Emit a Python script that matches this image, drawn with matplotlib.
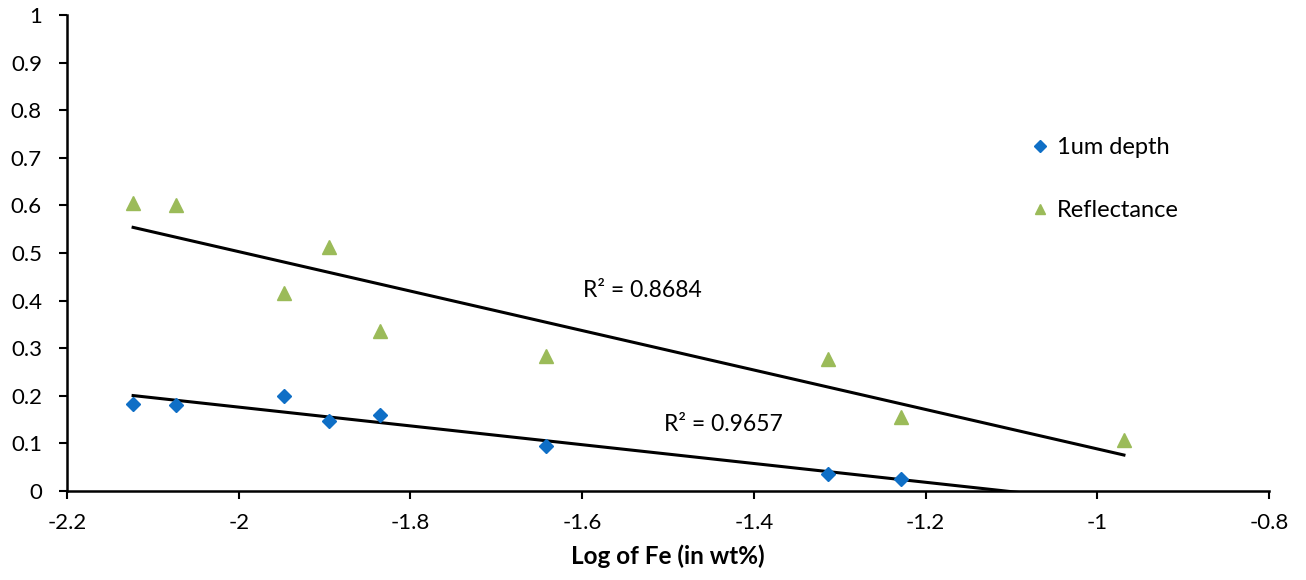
import numpy as np
import matplotlib
matplotlib.use("Agg")
import matplotlib.pyplot as plt

plt.rcParams['font.family'] = ['Lato', 'DejaVu Sans']

depth_x = [-2.123, -2.073, -1.947, -1.895, -1.835, -1.642, -1.314, -1.229]
depth_y = [0.183, 0.181, 0.200, 0.147, 0.160, 0.095, 0.036, 0.025]
refl_x = [-2.123, -2.073, -1.947, -1.895, -1.835, -1.642, -1.314, -1.229, -0.969]
refl_y = [0.605, 0.601, 0.416, 0.513, 0.336, 0.284, 0.277, 0.155, 0.107]
r2_depth = "R\u00b2 = 0.9657"
r2_refl = "R\u00b2 = 0.8684"
xticks = [-2.2, -2, -1.8, -1.6, -1.4, -1.2, -1, -0.8]
xtick_labels = ["-2.2", "-2", "-1.8", "-1.6", "-1.4", "-1.2", "-1", "-0.8"]
yticks = [0, 0.1, 0.2, 0.3, 0.4, 0.5, 0.6, 0.7, 0.8, 0.9, 1]
ytick_labels = ["0", "0.1", "0.2", "0.3", "0.4", "0.5", "0.6", "0.7", "0.8", "0.9", "1"]

blue = '#0F6FC6'
green = '#9BBB59'

fig = plt.figure(figsize=(13.06, 5.8), dpi=100)
ax = fig.add_axes([0.0513, 0.1534, 0.9204, 0.8207])

# trend lines
pd_ = np.polyfit(depth_x, depth_y, 1)
pr_ = np.polyfit(refl_x, refl_y, 1)
xs_d = np.linspace(min(depth_x), max(refl_x), 200)
xs_r = np.linspace(min(refl_x), max(refl_x), 200)
ax.plot(xs_d, np.polyval(pd_, xs_d), color='black', lw=2.2, zorder=2)
ax.plot(xs_r, np.polyval(pr_, xs_r), color='black', lw=2.2, zorder=2)

ax.plot(depth_x, depth_y, linestyle='none', marker='D', ms=7.5, color=blue,
        label='1um depth', zorder=3)
ax.plot(refl_x, refl_y, linestyle='none', marker='^', ms=9.5, color=green,
        label='Reflectance', zorder=3)

ax.text(-1.530, 0.422, r2_refl, fontsize=16.5, ha='center', va='center')
ax.text(-1.436, 0.139, r2_depth, fontsize=16.5, ha='center', va='center')

ax.set_xlim(-2.2, -0.8)
ax.set_ylim(0, 1)
ax.set_xticks(xticks)
ax.set_xticklabels(xtick_labels)
ax.set_yticks(yticks)
ax.set_yticklabels(ytick_labels)
ax.tick_params(axis='both', labelsize=16, length=6, width=1.5, direction='out',
               colors='black')
ax.tick_params(axis='y', pad=12)
ax.tick_params(axis='x', pad=10)
for s in ['top', 'right']:
    ax.spines[s].set_visible(False)
for s in ['left', 'bottom']:
    ax.spines[s].set_linewidth(1.8)
    ax.spines[s].set_color('black')

ax.set_xlabel("Log of Fe (in wt%)", fontsize=17.5, fontweight='bold', labelpad=8)

leg = ax.legend(loc='upper left', bbox_to_anchor=(0.800, 0.744), frameon=False,
                fontsize=17, handletextpad=0.2, labelspacing=1.8,
                handlelength=1.0, markerscale=0.75, borderpad=0, borderaxespad=0)

fig.savefig('out.png', dpi=100)
